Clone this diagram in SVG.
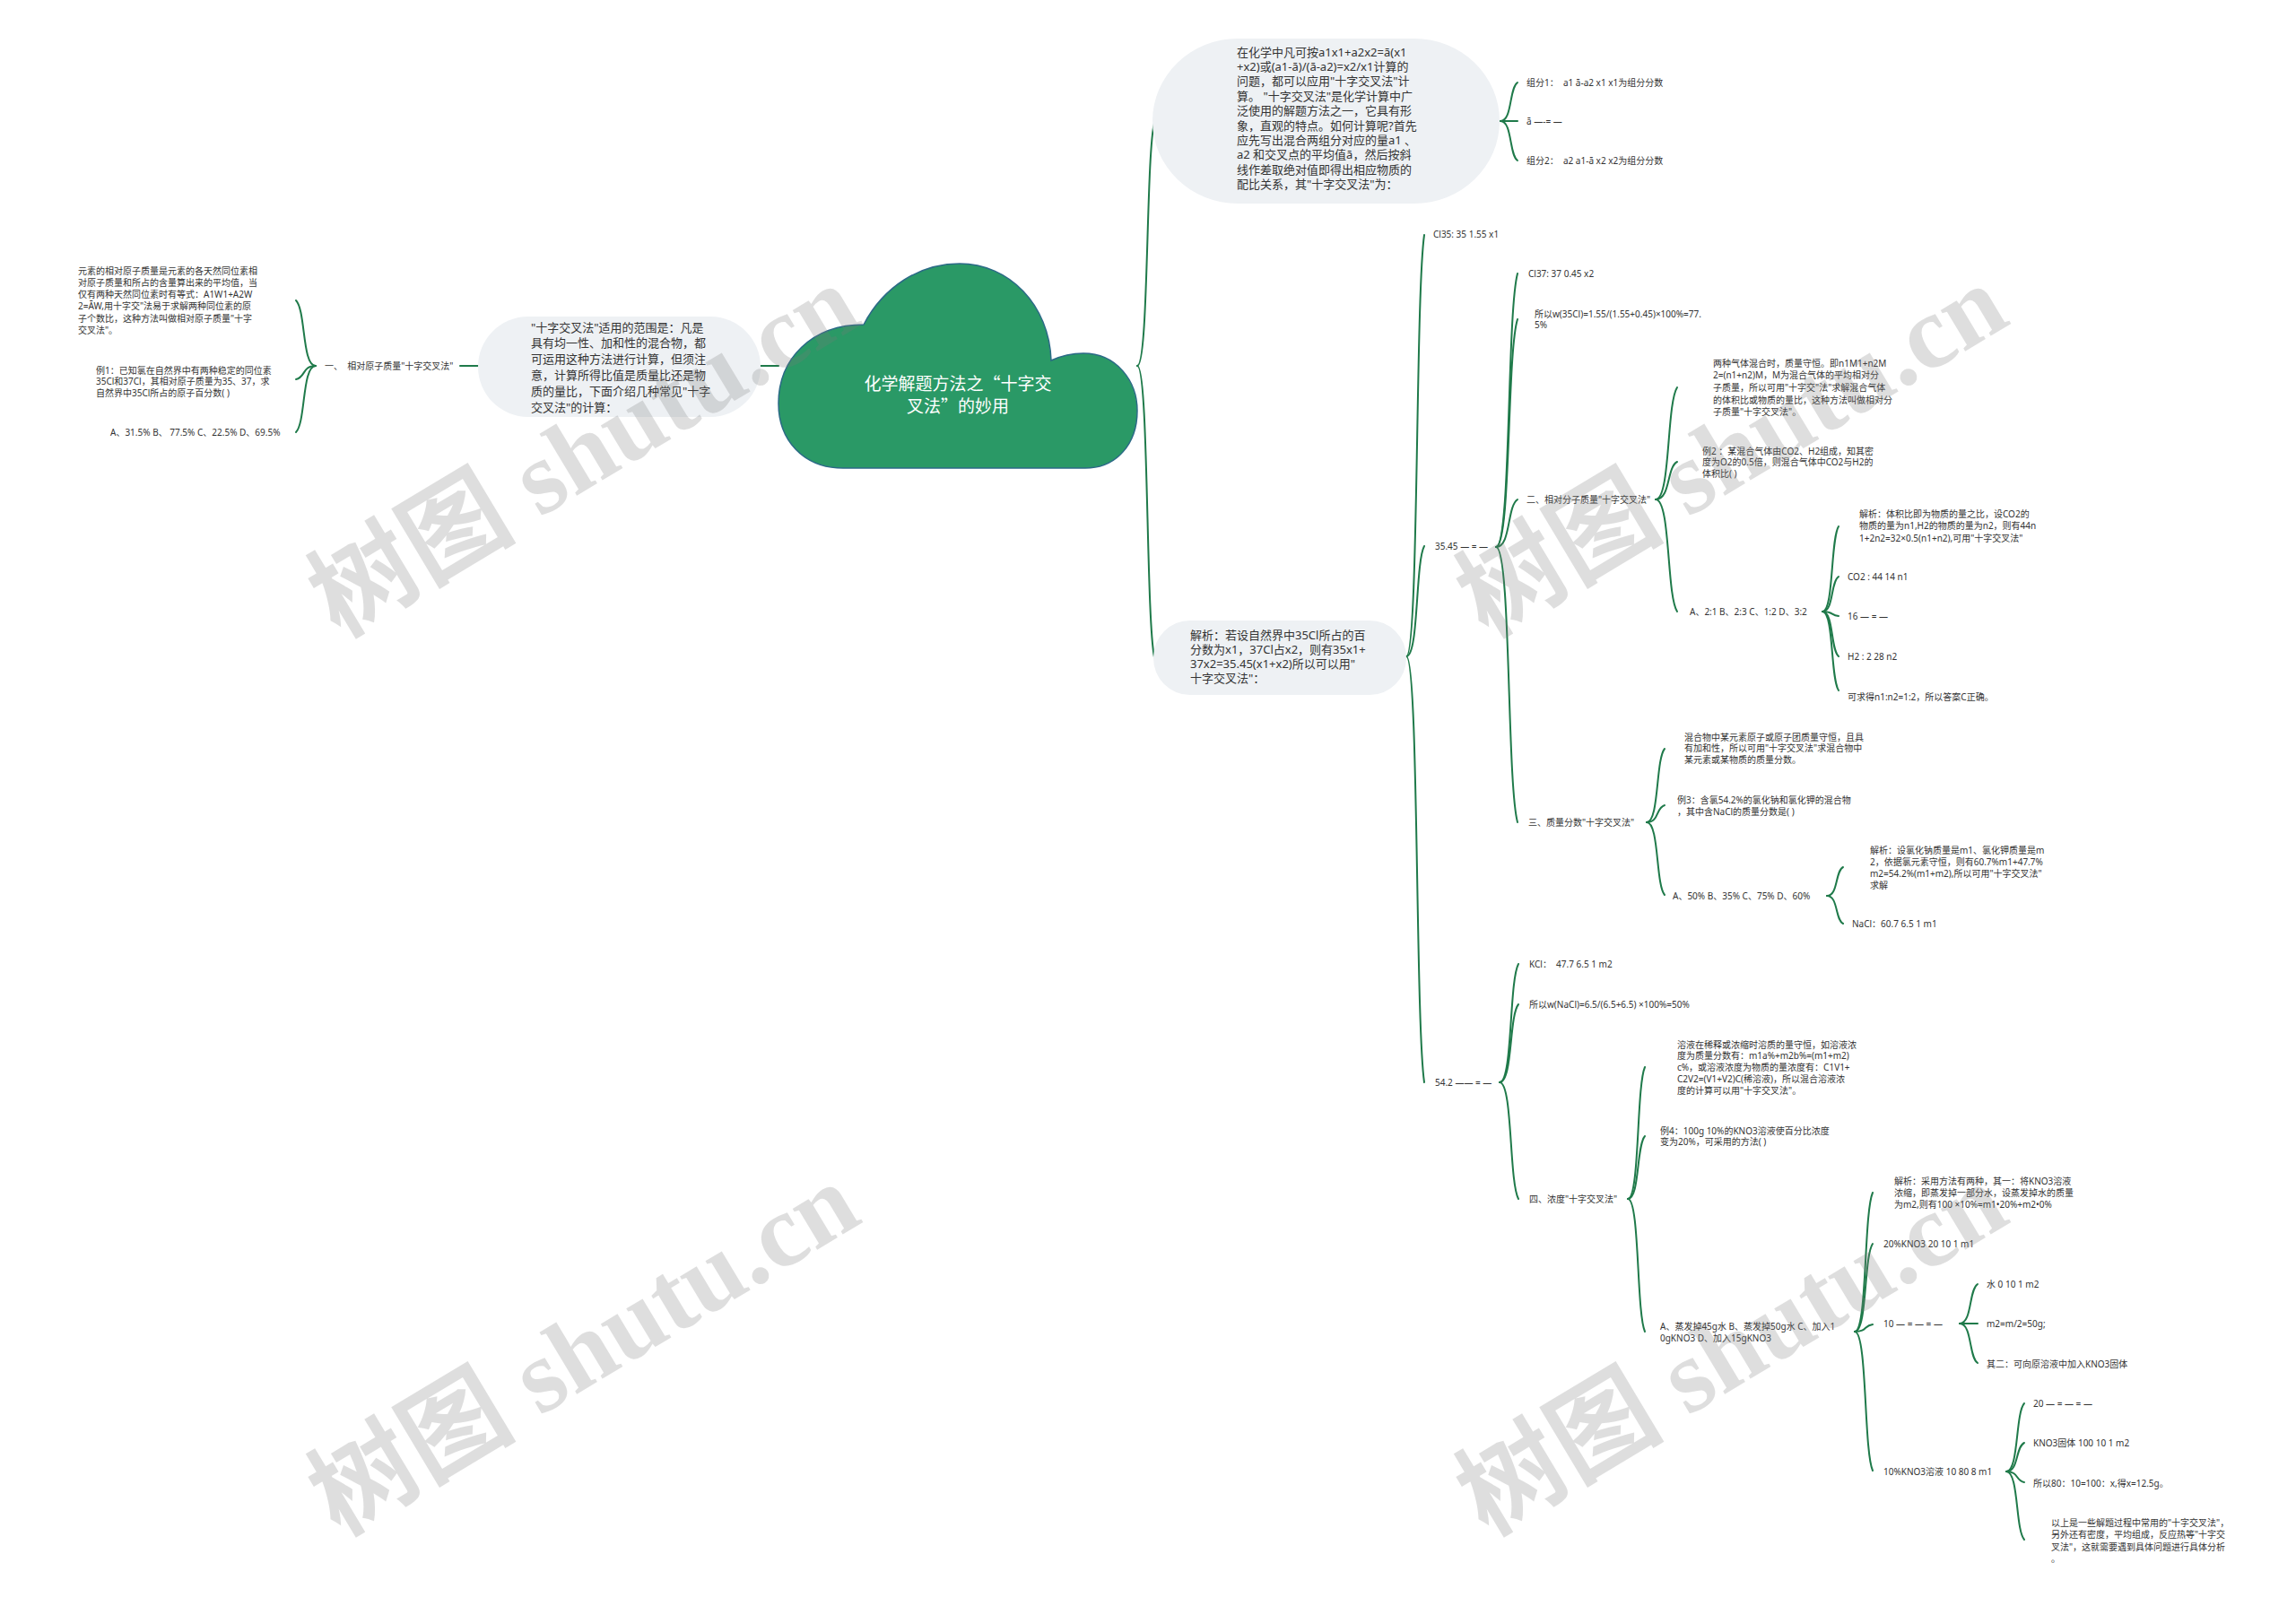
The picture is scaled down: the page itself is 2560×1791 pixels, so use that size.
<svg xmlns="http://www.w3.org/2000/svg" width="2560" height="1791" viewBox="0 0 2560 1791">
<style>
.t{font-family:"Noto Sans","Noto Sans CJK SC",sans-serif;fill:#333;white-space:pre}
.s{font-size:10px}
.m{font-size:13px}
.c{stroke:#1f7a4a;stroke-width:2;fill:none;stroke-linecap:round}
.b{fill:#eef1f4}
.wm{font-family:"Liberation Serif","Noto Sans CJK SC",serif;font-size:116px;font-weight:bold;fill:#7a7a7a;opacity:0.24}
</style>
<rect width="2560" height="1791" fill="#ffffff"/>

<g id="connectors">
<path class="c" d="M1268 408 C1281 408 1277.5 176 1287 137"/>
<path class="c" d="M1268 408 C1281 408 1277.5 684 1287 733"/>
<path class="c" d="M848 408 L868 408"/>
<path class="c" d="M513 408 L533 408"/>
<path class="c" d="M352 408 C336.6 408 341 346 330 335"/>
<path class="c" d="M352 408 C336.6 408 341 420.8 330 423"/>
<path class="c" d="M352 408 C336.6 408 341 471 330 482"/>
<path class="c" d="M1673 135 C1686.3 135 1682.5 98.5 1692 92"/>
<path class="c" d="M1673 135 L1692 135"/>
<path class="c" d="M1673 135 C1686.3 135 1682.5 172.4 1692 179"/>
<path class="c" d="M1568 732 C1582 732 1578 332.5 1588 262"/>
<path class="c" d="M1568 732 C1582 732 1578 627.5 1588 609"/>
<path class="c" d="M1568 732 C1582 732 1578 1136 1588 1207"/>
<path class="c" d="M1668 610 C1684.8 610 1680 350.8 1692 305"/>
<path class="c" d="M1668 610 C1684.8 610 1680 394 1692 356"/>
<path class="c" d="M1668 610 C1684.8 610 1680 565 1692 557"/>
<path class="c" d="M1668 610 C1684.8 610 1680 871 1692 917"/>
<path class="c" d="M1846 557 C1862.8 557 1858 450.8 1870 432"/>
<path class="c" d="M1846 557 C1862.8 557 1858 521.3 1870 515"/>
<path class="c" d="M1846 557 C1862.8 557 1858 663.3 1870 682"/>
<path class="c" d="M2032 682 C2044.6 682 2041 601.3 2050 587"/>
<path class="c" d="M2032 682 C2044.6 682 2041 648.9 2050 643"/>
<path class="c" d="M2032 682 C2044.6 682 2041 686.3 2050 687"/>
<path class="c" d="M2032 682 C2044.6 682 2041 724.5 2050 732"/>
<path class="c" d="M2032 682 C2044.6 682 2041 756.8 2050 770"/>
<path class="c" d="M1836 917 C1850 917 1846 847.3 1856 835"/>
<path class="c" d="M1836 917 C1850 917 1846 900.9 1856 898"/>
<path class="c" d="M1836 917 C1850 917 1846 985.9 1856 998"/>
<path class="c" d="M2037 999 C2049.6 999 2046 971.8 2055 967"/>
<path class="c" d="M2037 999 C2049.6 999 2046 1025.4 2055 1030"/>
<path class="c" d="M1672 1207 C1686.7 1207 1682.5 1094.8 1693 1075"/>
<path class="c" d="M1672 1207 C1686.7 1207 1682.5 1133 1693 1120"/>
<path class="c" d="M1672 1207 C1686.7 1207 1682.5 1317.5 1693 1337"/>
<path class="c" d="M1815 1337 C1828.3 1337 1824.5 1212 1834 1190"/>
<path class="c" d="M1815 1337 C1828.3 1337 1824.5 1277.5 1834 1267"/>
<path class="c" d="M1815 1337 C1828.3 1337 1824.5 1462.8 1834 1485"/>
<path class="c" d="M2068 1485 C2082 1485 2078 1353.3 2088 1330"/>
<path class="c" d="M2068 1485 C2082 1485 2078 1401.7 2088 1387"/>
<path class="c" d="M2068 1485 C2082 1485 2078 1478.2 2088 1477"/>
<path class="c" d="M2068 1485 C2082 1485 2078 1616.8 2088 1640"/>
<path class="c" d="M2185 1476 C2199 1476 2195 1438.6 2205 1432"/>
<path class="c" d="M2185 1476 L2205 1476"/>
<path class="c" d="M2185 1476 C2199 1476 2195 1513.4 2205 1520"/>
<path class="c" d="M2237 1641 C2251 1641 2247 1576.4 2257 1565"/>
<path class="c" d="M2237 1641 C2251 1641 2247 1613.8 2257 1609"/>
<path class="c" d="M2237 1641 C2251 1641 2247 1651.2 2257 1653"/>
<path class="c" d="M2237 1641 C2251 1641 2247 1705.6 2257 1717"/>
</g>

<g id="root">
<path d="M940 522 C895 522 868 490 868 450 C868 400 905 362 963 362 C985 320 1025 294 1070 294 C1125 294 1170 340 1172 402 C1185 396 1198 394 1208 394 C1245 394 1268 425 1268 458 C1268 495 1245 522 1210 522 Z" fill="#2a9966" stroke="#2b6a86" stroke-width="1.5"/>
<text style="font-family:'Noto Sans CJK SC',sans-serif;fill:#fff;font-size:19px" text-anchor="middle" x="1068" y="435">化学解题方法之“十字交<tspan x="1068" dy="25">叉法”的妙用</tspan></text>
</g>

<g id="n-top">
<rect class="b" x="1285" y="43" width="387" height="184" rx="95" ry="92"/>
<text class="t m" x="1379" y="62.5">在化学中凡可按a1x1+a2x2=ā(x1<tspan x="1379" dy="16.4">+x2)或(a1-ā)/(ā-a2)=x2/x1计算的</tspan><tspan x="1379" dy="16.4">问题，都可以应用"十字交叉法"计</tspan><tspan x="1379" dy="16.4">算。 "十字交叉法"是化学计算中广</tspan><tspan x="1379" dy="16.4">泛使用的解题方法之一，它具有形</tspan><tspan x="1379" dy="16.4">象，直观的特点。如何计算呢?首先</tspan><tspan x="1379" dy="16.4">应先写出混合两组分对应的量a1 、</tspan><tspan x="1379" dy="16.4">a2 和交叉点的平均值ā，然后按斜</tspan><tspan x="1379" dy="16.4">线作差取绝对值即得出相应物质的</tspan><tspan x="1379" dy="16.4">配比关系，其"十字交叉法"为：</tspan></text>
</g>
<g id="n-top-1"><text class="t s" x="1702" y="95.5">组分1：  a1 ā-a2 x1 x1为组分分数</text></g>
<g id="n-top-2"><text class="t s" x="1702" y="138.5">ā —-= —</text></g>
<g id="n-top-3"><text class="t s" x="1702" y="182.5">组分2：  a2 a1-ā x2 x2为组分分数</text></g>

<g id="n-left">
<rect class="b" x="533" y="353" width="315" height="112" rx="56" ry="56"/>
<text class="t m" x="592" y="369.5">"十字交叉法"适用的范围是：凡是<tspan x="592" dy="17.8">具有均一性、加和性的混合物，都</tspan><tspan x="592" dy="17.8">可运用这种方法进行计算，但须注</tspan><tspan x="592" dy="17.8">意，计算所得比值是质量比还是物</tspan><tspan x="592" dy="17.8">质的量比，下面介绍几种常见"十字</tspan><tspan x="592" dy="17.8">交叉法"的计算：</tspan></text>
</g>
<g id="n-l1"><text class="t s" x="362" y="411.5">一、  相对原子质量"十字交叉法"</text></g>
<g id="n-l1a"><text class="t s" x="87" y="305.5">元素的相对原子质量是元素的各天然同位素相<tspan x="87" dy="13.3">对原子质量和所占的含量算出来的平均值，当</tspan><tspan x="87" dy="13.3">仅有两种天然同位素时有等式：A1W1+A2W</tspan><tspan x="87" dy="13.3">2=ĀW,用十字交"法易于求解两种同位素的原</tspan><tspan x="87" dy="13.3">子个数比，这种方法叫做相对原子质量"十字</tspan><tspan x="87" dy="13.3">交叉法"。</tspan></text></g>
<g id="n-l1b"><text class="t s" x="107" y="416.5">例1：已知氯在自然界中有两种稳定的同位素<tspan x="107" dy="12.5">35Cl和37Cl，其相对原子质量为35、37，求</tspan><tspan x="107" dy="12.5">自然界中35Cl所占的原子百分数( )</tspan></text></g>
<g id="n-l1c"><text class="t s" x="123" y="485.5">A、31.5% B、 77.5% C、22.5% D、69.5%</text></g>

<g id="n-jx">
<rect class="b" x="1286" y="692" width="282" height="83" rx="41" ry="41"/>
<text class="t m" x="1327" y="712.5">解析：若设自然界中35Cl所占的百<tspan x="1327" dy="16.2">分数为x1，37Cl占x2，则有35x1+</tspan><tspan x="1327" dy="16.2">37x2=35.45(x1+x2)所以可以用"</tspan><tspan x="1327" dy="16.2">十字交叉法"：</tspan></text>
</g>
<g id="n-cl35"><text class="t s" x="1598" y="264.5">Cl35: 35 1.55 x1</text></g>
<g id="n-3545"><text class="t s" x="1600" y="612.5">35.45 — = —</text></g>
<g id="n-cl37"><text class="t s" x="1704" y="308.5">Cl37: 37 0.45 x2</text></g>
<g id="n-w35"><text class="t s" x="1711" y="353.5">所以w(35Cl)=1.55/(1.55+0.45)×100%=77.<tspan x="1711" dy="12.3">5%</tspan></text></g>

<g id="n-2"><text class="t s" x="1702" y="560.5">二、相对分子质量"十字交叉法"</text></g>
<g id="n-2a"><text class="t s" x="1910" y="408.5">两种气体混合时，质量守恒。即n1M1+n2M<tspan x="1910" dy="13.7">2=(n1+n2)M，M为混合气体的平均相对分</tspan><tspan x="1910" dy="13.7">子质量，所以可用"十字交"法"求解混合气体</tspan><tspan x="1910" dy="13.7">的体积比或物质的量比，这种方法叫做相对分</tspan><tspan x="1910" dy="13.7">子质量"十字交叉法"。</tspan></text></g>
<g id="n-2b"><text class="t s" x="1898" y="506.5">例2 ：某混合气体由CO2、H2组成，知其密<tspan x="1898" dy="12.7">度为O2的0.5倍，则混合气体中CO2与H2的</tspan><tspan x="1898" dy="12.7">体积比( )</tspan></text></g>
<g id="n-2c"><text class="t s" x="1884" y="685.5">A、2:1 B、2:3 C、1:2 D、3:2</text></g>
<g id="n-2c1"><text class="t s" x="2073" y="576.5">解析：体积比即为物质的量之比，设CO2的<tspan x="2073" dy="13.5">物质的量为n1,H2的物质的量为n2，则有44n</tspan><tspan x="2073" dy="13.5">1+2n2=32×0.5(n1+n2),可用"十字交叉法"</tspan></text></g>
<g id="n-2c2"><text class="t s" x="2060" y="646.5">CO2 : 44 14 n1</text></g>
<g id="n-2c3"><text class="t s" x="2060" y="690.5">16 — = —</text></g>
<g id="n-2c4"><text class="t s" x="2060" y="735.5">H2 : 2 28 n2</text></g>
<g id="n-2c5"><text class="t s" x="2060" y="780.5">可求得n1:n2=1:2，所以答案C正确。</text></g>

<g id="n-3"><text class="t s" x="1704" y="920.5">三、质量分数"十字交叉法"</text></g>
<g id="n-3a"><text class="t s" x="1878" y="825.5">混合物中某元素原子或原子团质量守恒，且具<tspan x="1878" dy="12.7">有加和性，所以可用"十字交叉法"求混合物中</tspan><tspan x="1878" dy="12.7">某元素或某物质的质量分数。</tspan></text></g>
<g id="n-3b"><text class="t s" x="1870" y="895.5">例3：含氯54.2%的氯化钠和氯化钾的混合物<tspan x="1870" dy="13">，其中含NaCl的质量分数是( )</tspan></text></g>
<g id="n-3c"><text class="t s" x="1865" y="1002.5">A、50% B、35% C、75% D、60%</text></g>
<g id="n-3c1"><text class="t s" x="2085" y="951.5">解析：设氯化钠质量是m1、氯化钾质量是m<tspan x="2085" dy="13">2，依据氯元素守恒，则有60.7%m1+47.7%</tspan><tspan x="2085" dy="13">m2=54.2%(m1+m2),所以可用"十字交叉法"</tspan><tspan x="2085" dy="13">求解</tspan></text></g>
<g id="n-3c2"><text class="t s" x="2065" y="1033.5">NaCl：60.7 6.5 1 m1</text></g>

<g id="n-542"><text class="t s" x="1600" y="1210.5">54.2 —— = —</text></g>
<g id="n-kcl"><text class="t s" x="1705" y="1078.5">KCl：  47.7 6.5 1 m2</text></g>
<g id="n-wnacl"><text class="t s" x="1705" y="1123.5">所以w(NaCl)=6.5/(6.5+6.5) ×100%=50%</text></g>
<g id="n-4"><text class="t s" x="1705" y="1340.5">四、浓度"十字交叉法"</text></g>
<g id="n-4a"><text class="t s" x="1870" y="1168.5">溶液在稀释或浓缩时溶质的量守恒，如溶液浓<tspan x="1870" dy="12.8">度为质量分数有：m1a%+m2b%=(m1+m2)</tspan><tspan x="1870" dy="12.8">c%，或溶液浓度为物质的量浓度有：C1V1+</tspan><tspan x="1870" dy="12.8">C2V2=(V1+V2)C(稀溶液)，所以混合溶液浓</tspan><tspan x="1870" dy="12.8">度的计算可以用"十字交叉法"。</tspan></text></g>
<g id="n-4b"><text class="t s" x="1851" y="1264.5">例4：100g 10%的KNO3溶液使百分比浓度<tspan x="1851" dy="12.7">变为20%，可采用的方法( )</tspan></text></g>
<g id="n-4c"><text class="t s" x="1851" y="1482.5">A、蒸发掉45g水 B、蒸发掉50g水 C、加入1<tspan x="1851" dy="13">0gKNO3 D、加入15gKNO3</tspan></text></g>
<g id="n-4c1"><text class="t s" x="2112" y="1320.5">解析：采用方法有两种，其一：将KNO3溶液<tspan x="2112" dy="13">浓缩，即蒸发掉一部分水，设蒸发掉水的质量</tspan><tspan x="2112" dy="13">为m2,则有100 ×10%=m1•20%+m2•0%</tspan></text></g>
<g id="n-4c2"><text class="t s" x="2100" y="1390.5">20%KNO3 20 10 1 m1</text></g>
<g id="n-4c3"><text class="t s" x="2100" y="1479.5">10 — = — = —</text></g>
<g id="n-4c3a"><text class="t s" x="2215" y="1435.5">水 0 10 1 m2</text></g>
<g id="n-4c3b"><text class="t s" x="2215" y="1479.5">m2=m/2=50g;</text></g>
<g id="n-4c3c"><text class="t s" x="2215" y="1524.5">其二：可向原溶液中加入KNO3固体</text></g>
<g id="n-4c4"><text class="t s" x="2100" y="1644.5">10%KNO3溶液 10 80 8 m1</text></g>
<g id="n-4c4a"><text class="t s" x="2267" y="1568.5">20 — = — = —</text></g>
<g id="n-4c4b"><text class="t s" x="2267" y="1612.5">KNO3固体 100 10 1 m2</text></g>
<g id="n-4c4c"><text class="t s" x="2267" y="1657.5">所以80：10=100：x,得x=12.5g。</text></g>
<g id="n-4c4d"><text class="t s" x="2287" y="1701.5">以上是一些解题过程中常用的"十字交叉法"，<tspan x="2287" dy="13.5">另外还有密度，平均组成，反应热等"十字交</tspan><tspan x="2287" dy="13.5">叉法"，这就需要遇到具体问题进行具体分析</tspan><tspan x="2287" dy="13.5">。</tspan></text></g>

<g id="watermarks">
<text class="wm" x="378" y="712" transform="rotate(-31 378 712)">树图 shutu.cn</text>
<text class="wm" x="1658" y="712" transform="rotate(-31 1658 712)">树图 shutu.cn</text>
<text class="wm" x="378" y="1714" transform="rotate(-31 378 1714)">树图 shutu.cn</text>
<text class="wm" x="1658" y="1714" transform="rotate(-31 1658 1714)">树图 shutu.cn</text>
</g>
</svg>
